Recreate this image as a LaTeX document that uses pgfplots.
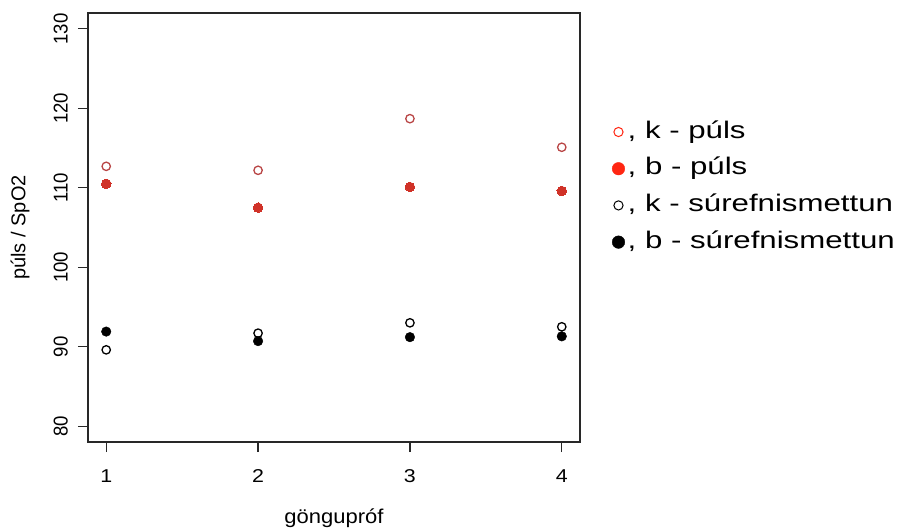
\documentclass[border=0pt]{standalone}
\usepackage{pgfplots}
\pgfplotsset{compat=1.18}
\usepackage{pgfplotstable}
\usepackage{fontspec}
\setmainfont{Liberation Sans}
\newfontfamily\xtickfont[FakeStretch=1.15]{Liberation Sans}
\newfontfamily\xlabfont[FakeStretch=1.1]{Liberation Sans}
\newfontfamily\ytickfont[FakeStretch=0.93]{Liberation Sans}
\newfontfamily\legfont[FakeStretch=1.3]{Liberation Sans}

\definecolor{ptred}{RGB}{208,50,40}
\definecolor{ptredopen}{RGB}{185,70,70}
\definecolor{legred}{RGB}{255,38,18}
\definecolor{axgray}{RGB}{40,40,40}

\pgfplotstableread{
x kp bp ks bs
1 112.7 110.5 89.6 91.9
2 112.2 107.5 91.7 90.7
3 118.7 110.1 93.0 91.2
4 115.1 109.6 92.5 91.3
}\data

\begin{document}
\begin{tikzpicture}
\useasboundingbox (-88bp,-86bp) rectangle (818bp,442bp);
\begin{axis}[
  at={(0,0)}, anchor=south west,
  scale only axis, width=492bp, height=429bp,
  xmin=0.88, xmax=4.12, ymin=78, ymax=132,
  xtick={1,2,3,4}, ytick={80,90,100,110,120,130},
  xtick pos=bottom, ytick pos=left,
  tick align=outside, major tick length=10bp,
  tick style={line width=1.2bp, color=axgray},
  axis line style={line width=1.5bp, color=axgray},
  /pgf/number format/assume math mode=true,
  xticklabel style={font=\fontsize{18.6bp}{20bp}\xtickfont, anchor=base, inner sep=0pt, yshift=-30bp},
  yticklabel style={font=\fontsize{20bp}{22bp}\ytickfont, xshift=-10bp, rotate=90, anchor=south, inner sep=0pt},
  xlabel={göngupróf},
  ylabel={púls / SpO2},
  every axis x label/.style={at={(axis description cs:0.5,0)}, anchor=base, yshift=-81bp, font=\fontsize{20bp}{22bp}\xlabfont},
  every axis y label/.style={at={(axis description cs:0,0.5)}, xshift=-68bp, rotate=90, anchor=center, font=\fontsize{20bp}{22bp}\selectfont},
  legend style={at={(axis description cs:1.065,0.7494)}, anchor=north west, draw=none, fill=none,
    inner sep=0pt, outer sep=0pt, row sep=13.7bp, column sep=0pt,
    nodes={inner sep=0pt, text height=17.5bp, text depth=5.5bp, font=\fontsize{24bp}{28bp}\legfont}},
  legend cell align=left,
]
\addplot[only marks, mark=o, mark size=4.2bp, color=ptredopen, mark options={line width=1.3bp},
  legend image code/.code={\path (-6bp,-7bp) (9bp,7bp); \draw[legred, line width=1bp] (0bp,0bp) circle (4.6bp);}]
  table[x=x,y=kp]{\data};
\addlegendentry{, k - púls}
\addplot[only marks, mark=*, mark size=4.8bp, color=ptred, mark options={line width=0bp, fill=ptred, draw=ptred},
  legend image code/.code={\path (-6bp,-7bp) (9bp,7bp); \fill[legred] (0bp,0bp) circle (6.3bp);}]
  table[x=x,y=bp]{\data};
\addlegendentry{, b - púls}
\addplot[only marks, mark=o, mark size=4.2bp, color=black, mark options={line width=1.3bp},
  legend image code/.code={\path (-6bp,-7bp) (9bp,7bp); \draw[black, line width=1bp] (0bp,0bp) circle (4.6bp);}]
  table[x=x,y=ks]{\data};
\addlegendentry{, k - súrefnismettun}
\addplot[only marks, mark=*, mark size=4.8bp, color=black, mark options={fill=black},
  legend image code/.code={\path (-6bp,-7bp) (9bp,7bp); \fill[black] (0bp,0bp) circle (6.3bp);}]
  table[x=x,y=bs]{\data};
\addlegendentry{, b - súrefnismettun}
\end{axis}
\end{tikzpicture}
\end{document}
